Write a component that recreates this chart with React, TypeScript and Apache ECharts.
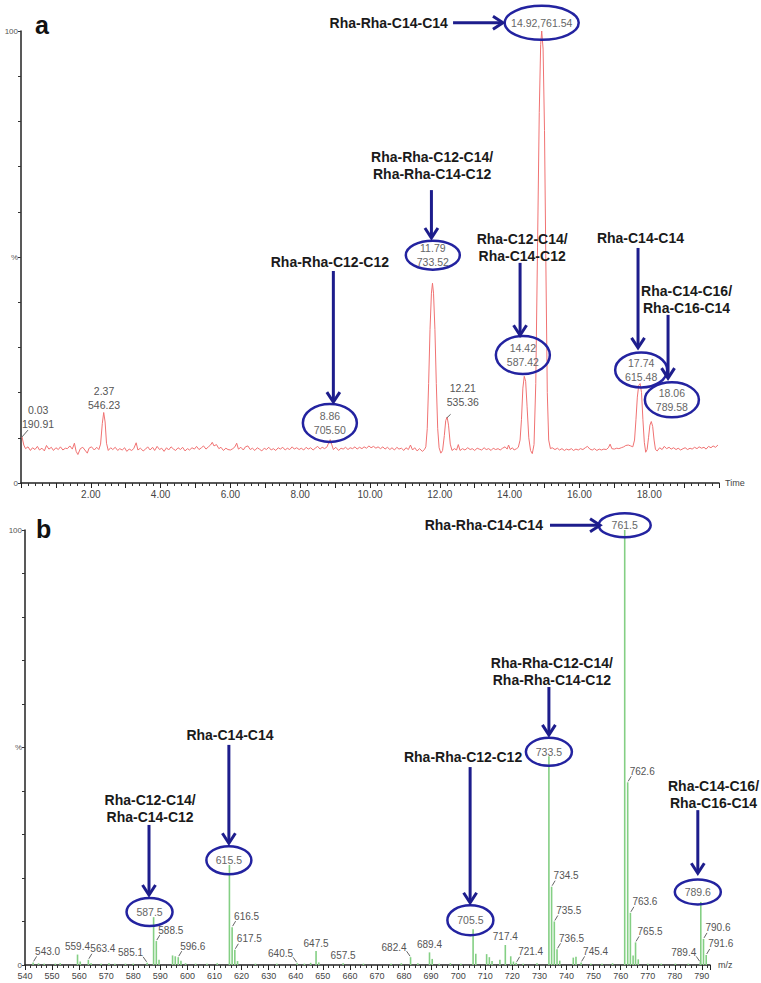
import React, { useEffect, useRef } from "react";
import * as echarts from "echarts";

// ---------- Panel a: total ion chromatogram (time in min, relative intensity %) ----------
const chromTrace: [number, number][] = [
  [0.03, 10.2], [0.08, 8.4], [0.13, 7.6], [0.2, 8.0], [0.27, 7.2], [0.33, 7.8], [0.4, 7.4], [0.47, 8.1],
  [0.53, 7.3], [0.6, 7.7], [0.67, 7.1], [0.73, 8.3], [0.8, 7.5], [0.87, 7.9], [0.93, 7.2], [1.0, 7.8],
  [1.07, 7.4], [1.13, 8.0], [1.2, 7.3], [1.27, 7.7], [1.33, 7.6], [1.4, 8.2], [1.47, 7.5], [1.53, 8.8],
  [1.58, 7.0], [1.63, 6.3], [1.7, 7.6], [1.77, 7.9], [1.83, 7.3], [1.9, 6.6], [1.95, 7.7], [2.02, 8.0],
  [2.1, 7.3], [2.17, 7.9], [2.23, 7.4], [2.28, 8.6], [2.33, 13.2], [2.37, 15.6], [2.41, 13.5], [2.45, 8.8],
  [2.5, 7.2], [2.57, 7.8], [2.63, 7.4], [2.7, 7.9], [2.77, 7.2], [2.83, 7.6], [2.9, 7.3], [2.97, 7.8],
  [3.03, 7.0], [3.1, 7.5], [3.17, 7.2], [3.23, 7.6], [3.3, 8.9], [3.35, 7.3], [3.42, 7.7], [3.5, 7.1],
  [3.57, 7.5], [3.63, 8.0], [3.7, 7.3], [3.77, 7.9], [3.83, 7.2], [3.9, 8.1], [3.97, 7.4], [4.03, 7.7],
  [4.1, 7.0], [4.17, 7.8], [4.23, 7.3], [4.3, 8.0], [4.37, 7.5], [4.43, 7.2], [4.5, 7.8], [4.57, 7.4],
  [4.63, 7.9], [4.7, 7.1], [4.77, 7.6], [4.83, 7.3], [4.9, 7.8], [4.97, 7.5], [5.03, 8.1], [5.1, 7.4],
  [5.17, 7.8], [5.23, 8.2], [5.3, 7.5], [5.37, 8.0], [5.43, 8.4], [5.48, 9.0], [5.53, 8.2], [5.6, 8.5],
  [5.67, 7.6], [5.73, 7.9], [5.8, 7.2], [5.87, 7.7], [5.93, 7.4], [6.0, 7.3], [6.07, 7.6], [6.13, 8.0],
  [6.18, 8.8], [6.23, 7.5], [6.3, 7.9], [6.37, 7.3], [6.43, 8.0], [6.5, 8.2], [6.57, 7.4], [6.63, 7.7],
  [6.7, 7.2], [6.77, 7.8], [6.83, 7.5], [6.9, 7.1], [6.97, 7.7], [7.03, 7.4], [7.1, 7.9], [7.17, 7.3],
  [7.23, 7.6], [7.3, 7.2], [7.37, 7.8], [7.43, 7.5], [7.5, 7.9], [7.57, 7.3], [7.63, 7.7], [7.7, 7.4],
  [7.77, 8.0], [7.83, 7.5], [7.9, 7.8], [7.97, 7.4], [8.03, 7.7], [8.1, 7.3], [8.17, 7.9], [8.23, 7.5],
  [8.3, 7.8], [8.37, 7.3], [8.43, 7.7], [8.5, 8.1], [8.57, 7.5], [8.63, 7.9], [8.7, 7.6], [8.77, 8.0],
  [8.82, 9.0], [8.86, 9.6], [8.9, 8.6], [8.95, 7.4], [9.02, 7.9], [9.1, 7.2], [9.17, 7.7], [9.23, 7.5],
  [9.3, 7.9], [9.37, 7.4], [9.43, 7.8], [9.5, 7.6], [9.57, 8.0], [9.63, 7.5], [9.7, 7.9], [9.77, 7.6],
  [9.83, 8.0], [9.9, 7.7], [9.97, 8.2], [10.03, 7.8], [10.1, 8.1], [10.17, 7.7], [10.23, 8.0], [10.3, 7.6],
  [10.37, 8.0], [10.43, 7.5], [10.5, 7.9], [10.57, 7.4], [10.63, 7.8], [10.7, 7.3], [10.77, 7.9], [10.83, 7.5],
  [10.9, 7.7], [10.97, 7.2], [11.03, 7.8], [11.1, 7.4], [11.16, 8.4], [11.22, 7.3], [11.28, 7.8], [11.35, 7.1],
  [11.42, 7.6], [11.5, 7.0], [11.56, 7.4], [11.6, 8.0], [11.64, 12], [11.68, 22], [11.72, 34], [11.76, 42],
  [11.79, 44.2], [11.82, 42], [11.86, 34], [11.9, 22], [11.94, 12], [11.98, 7.8], [12.03, 6.6], [12.08, 7.2],
  [12.13, 10.5], [12.17, 13.8], [12.21, 14.6], [12.25, 12.8], [12.3, 8.6], [12.35, 7.2], [12.42, 7.6], [12.48, 7.3],
  [12.53, 8.5], [12.58, 7.2], [12.65, 7.6], [12.72, 7.3], [12.8, 7.8], [12.87, 7.4], [12.93, 7.6], [13.0, 7.2],
  [13.07, 7.7], [13.13, 7.5], [13.2, 7.3], [13.27, 7.8], [13.33, 7.4], [13.4, 7.6], [13.47, 7.2], [13.53, 7.7],
  [13.6, 7.4], [13.67, 7.6], [13.73, 7.3], [13.8, 7.7], [13.87, 8.0], [13.93, 7.5], [13.97, 8.4], [14.02, 7.4],
  [14.08, 7.8], [14.13, 7.3], [14.2, 7.6], [14.25, 7.9], [14.3, 9.5], [14.34, 14], [14.38, 21], [14.42, 23.6],
  [14.46, 22.5], [14.5, 17], [14.55, 10], [14.6, 7.2], [14.65, 6.5], [14.7, 8.5], [14.75, 22], [14.8, 52],
  [14.85, 82], [14.89, 97], [14.92, 100], [14.96, 96], [15.0, 78], [15.04, 48], [15.08, 20], [15.12, 9.5],
  [15.17, 7.6], [15.22, 7.8], [15.3, 7.4], [15.37, 7.7], [15.43, 7.3], [15.5, 7.6], [15.57, 7.2], [15.63, 7.5],
  [15.7, 7.3], [15.77, 7.6], [15.83, 7.2], [15.9, 7.5], [15.97, 7.3], [16.03, 7.6], [16.1, 7.4], [16.17, 7.8],
  [16.23, 8.1], [16.3, 7.5], [16.37, 7.3], [16.43, 7.6], [16.5, 7.2], [16.57, 7.5], [16.63, 7.3], [16.7, 7.5],
  [16.77, 7.4], [16.83, 7.8], [16.88, 8.6], [16.93, 7.6], [17.0, 7.5], [17.07, 7.7], [17.13, 7.6], [17.2, 7.8],
  [17.27, 8.0], [17.33, 8.3], [17.4, 8.4], [17.47, 8.2], [17.53, 8.0], [17.58, 9.5], [17.62, 14], [17.66, 19],
  [17.7, 21.6], [17.74, 22], [17.78, 20], [17.82, 14], [17.86, 9], [17.9, 6.8], [17.94, 7.4], [17.98, 10],
  [18.02, 12.8], [18.06, 13.6], [18.1, 12.5], [18.14, 9.5], [18.18, 7.4], [18.23, 7.1], [18.3, 7.8], [18.37, 7.4],
  [18.43, 8.1], [18.5, 7.6], [18.57, 7.9], [18.63, 7.5], [18.7, 7.8], [18.77, 7.4], [18.83, 7.7], [18.9, 7.3],
  [18.97, 7.6], [19.03, 7.8], [19.1, 7.4], [19.17, 7.7], [19.23, 7.5], [19.3, 7.9], [19.37, 7.6], [19.43, 8.0],
  [19.5, 7.7], [19.57, 7.9], [19.63, 7.5], [19.7, 8.1], [19.77, 7.8], [19.83, 8.2], [19.9, 7.9], [19.97, 8.4],
];

// ---------- Panel b: mass spectrum (m/z, relative intensity %) ----------
const spectrumMz = [
  543.0, 545.0, 547.1, 551.2, 553.0, 559.4, 560.4, 563.4, 564.4, 568.1, 571.0, 573.2, 577.1, 580.0, 585.1,
  587.5, 588.5, 589.5, 594.5, 595.5, 596.6, 597.6, 599.3, 603.0, 607.2, 611.0, 615.5, 616.5, 617.5, 618.5,
  625.1, 633.0, 640.5, 643.2, 645.5, 647.5, 648.5, 657.5, 665.0, 675.2, 679.0, 682.4, 685.1, 689.4, 690.4,
  693.0, 697.1, 701.0, 705.5, 706.5, 710.5, 711.5, 712.5, 715.4, 717.4, 719.4, 720.4, 721.4, 724.0, 729.1,
  733.5, 734.5, 735.5, 736.5, 737.5, 742.5, 743.5, 745.4, 749.0, 753.1, 757.0, 761.5, 762.6, 763.6, 764.6,
  765.5, 766.5, 770.1, 775.0, 780.2, 785.0, 789.4, 789.6, 790.6, 791.6,
];
const spectrumPct = [
  0.6, 0.4, 0.3, 0.3, 0.4, 2.4, 0.8, 1.2, 0.4, 0.3, 0.4, 0.3, 0.3, 0.3, 0.5,
  11, 5.5, 1.2, 2.2, 2.0, 1.8, 1.0, 0.4, 0.3, 0.3, 0.4, 23, 8.7, 3.5, 0.9,
  0.3, 0.3, 0.4, 0.3, 0.5, 3.2, 0.6, 0.4, 0.3, 0.3, 0.4, 1.8, 0.4, 2.9, 1.4,
  0.3, 0.4, 0.3, 8.2, 2.6, 2.5, 1.8, 0.9, 1.2, 4.6, 2.0, 0.8, 0.5, 0.3, 0.4,
  48, 18, 10, 3.6, 1.0, 1.7, 1.9, 0.6, 0.3, 0.3, 0.4, 100, 42, 12, 2.2,
  5.2, 1.3, 0.3, 0.3, 0.3, 0.3, 0.6, 14.5, 6, 2.3,
];

// peak labels of the spectrum: [text, m/z, intensity, leader side]
const spectrumPeakLabels: [string, number, number, string][] = [
  ["543.0", 543.0, 0.6, "r"], ["559.4", 559.4, 2.4, "c"], ["563.4", 563.4, 1.2, "r"], ["585.1", 585.1, 0.5, "l"],
  ["588.5", 588.5, 5.5, "r"], ["596.6", 596.6, 1.8, "r"], ["616.5", 616.5, 8.7, "r"], ["617.5", 617.5, 3.5, "r"],
  ["640.5", 640.5, 0.4, "l"], ["647.5", 647.5, 3.2, "c"], ["657.5", 657.5, 0.4, "c"], ["682.4", 682.4, 1.8, "l"],
  ["689.4", 689.4, 2.9, "c"], ["717.4", 717.4, 4.6, "c"], ["721.4", 721.4, 0.5, "r"], ["734.5", 734.5, 18, "r"],
  ["735.5", 735.5, 10, "r"], ["736.5", 736.5, 3.6, "r"], ["745.4", 745.4, 0.6, "r"], ["762.6", 762.6, 42, "r"],
  ["763.6", 763.6, 12, "r"], ["765.5", 765.5, 5.2, "r"], ["789.4", 789.4, 0.6, "l"], ["790.6", 790.6, 6, "r"],
  ["791.6", 791.6, 2.3, "r"],
];

// chromatogram peak labels (time / base peak m/z)
const chromPeakLabels: { text: string; at: [number, number]; leader?: [number, number, number, number] }[] = [
  { text: "0.03\n190.91", at: [0.49, 14.7], leader: [0.03, 10.2, 0.2, 11.7] },
  { text: "2.37\n546.23", at: [2.38, 18.9] },
  { text: "12.21\n535.36", at: [12.66, 19.5], leader: [12.2, 14.4, 12.31, 15.2] },
];

type Callout = {
  name: string; at: [number, number]; align: string;
  arrow: [number, number, number, number];
  ellipse: [number, number]; rx: number; ry: number; value: string;
};

const calloutsA: Callout[] = [
  { name: "Rha-Rha-C14-C14", at: [12.23, 101.8], align: "right", arrow: [12.38, 101.8, 13.81, 101.8], ellipse: [14.92, 101.8], rx: 37, ry: 17, value: "14.92,761.54" },
  { name: "Rha-Rha-C12-C14/\nRha-Rha-C14-C12", at: [11.78, 70.2], align: "center", arrow: [11.76, 64.8, 11.76, 54.2], ellipse: [11.8, 50.4], rx: 27, ry: 14.5, value: "11.79\n733.52" },
  { name: "Rha-Rha-C12-C12", at: [8.85, 48.9], align: "center", arrow: [8.95, 46.9, 8.95, 17.9], ellipse: [8.85, 13.3], rx: 27, ry: 19, value: "8.86\n705.50" },
  { name: "Rha-C12-C14/\nRha-C14-C12", at: [14.36, 52.2], align: "center", arrow: [14.3, 48.7, 14.3, 32.7], ellipse: [14.38, 28.3], rx: 27, ry: 19, value: "14.42\n587.42" },
  { name: "Rha-C14-C14", at: [17.75, 54.2], align: "center", arrow: [17.68, 52, 17.68, 29.9], ellipse: [17.77, 25], rx: 26, ry: 17.5, value: "17.74\n615.48" },
  { name: "Rha-C14-C16/\nRha-C16-C14", at: [19.07, 40.7], align: "center", arrow: [18.54, 37.2, 18.54, 23.2], ellipse: [18.65, 18.4], rx: 27, ry: 17.5, value: "18.06\n789.58" },
];

const calloutsB: Callout[] = [
  { name: "Rha-Rha-C14-C14", at: [731.3, 101.1], align: "right", arrow: [733.9, 101.1, 752.4, 101.1], ellipse: [761.5, 101.1], rx: 26, ry: 12, value: "761.5" },
  { name: "Rha-Rha-C12-C14/\nRha-Rha-C14-C12", at: [734.6, 67.5], align: "center", arrow: [733.5, 63.9, 733.5, 52.9], ellipse: [733.5, 49], rx: 23, ry: 14, value: "733.5" },
  { name: "Rha-Rha-C12-C12", at: [701.8, 47.8], align: "center", arrow: [704.4, 45.5, 704.4, 14.3], ellipse: [704.5, 10.3], rx: 23, ry: 15, value: "705.5" },
  { name: "Rha-C14-C16/\nRha-C16-C14", at: [794.3, 39.1], align: "center", arrow: [788.5, 35.6, 788.5, 21.1], ellipse: [788.5, 16.8], rx: 23, ry: 12.5, value: "789.6" },
  { name: "Rha-C14-C14", at: [615.7, 52.9], align: "center", arrow: [615.3, 50.6, 615.3, 28], ellipse: [615.3, 24.1], rx: 22.5, ry: 14, value: "615.5" },
  { name: "Rha-C12-C14/\nRha-C14-C12", at: [586.2, 36], align: "center", arrow: [585.8, 32.2, 585.8, 16.1], ellipse: [586, 12.2], rx: 23, ry: 14, value: "587.5" },
];

const FONT = '"Liberation Sans", Arial, sans-serif';
const NAVY = "#1d1d8c";
const ELLIPSE = "#2323a0";
const GRAY = "#555";

function arrowEls(p1: number[], p2: number[]) {
  const dx = p2[0] - p1[0], dy = p2[1] - p1[1];
  const len = Math.hypot(dx, dy) || 1;
  const ux = dx / len, uy = dy / len;
  const hl = 10, hw = 6.5;
  const bx = p2[0] - ux * hl, by = p2[1] - uy * hl;
  return [
    { type: "line", z: 100, shape: { x1: p1[0], y1: p1[1], x2: p2[0] - ux * 1.5, y2: p2[1] - uy * 1.5 }, style: { stroke: NAVY, lineWidth: 3 } },
    {
      type: "polyline", z: 100,
      shape: { points: [[bx - uy * hw, by + ux * hw], [p2[0], p2[1]], [bx + uy * hw, by - ux * hw]] },
      style: { stroke: NAVY, lineWidth: 3, fill: "none", lineJoin: "miter" },
    },
  ];
}

function textEl(text: string, x: number, y: number, font: string, fill: string, align = "center", lineHeight = 14) {
  return {
    type: "text", z: 101,
    style: { text, x, y, font, fill, align, verticalAlign: "middle", textAlign: align, textVerticalAlign: "middle", lineHeight },
  };
}

function axisCommon() {
  return {
    axisLine: { show: true, lineStyle: { color: "#222", width: 1.5 } },
    splitLine: { show: false },
  };
}

export default function App() {
  const ref = useRef<HTMLDivElement>(null);

  useEffect(() => {
    if (!ref.current) return;
    const chart = echarts.init(ref.current, null, { renderer: "svg" });
    const yLabel = (v: number) => (v === 100 ? "100" : v === 0 ? "0" : v === 50 ? "%" : "");

    chart.setOption({
      animation: false,
      backgroundColor: "#ffffff",
      textStyle: { fontFamily: FONT },
      grid: [
        { left: 21, right: 42, top: 31, height: 452 },
        { left: 25, right: 51, top: 530, height: 435 },
      ],
      xAxis: [
        {
          type: "value", gridIndex: 0, min: 0, max: 20, interval: 1,
          ...axisCommon(),
          axisTick: { show: true, length: 5, lineStyle: { color: "#222" } },
          minorTick: { show: true, splitNumber: 5, length: 3, lineStyle: { color: "#333" } },
          axisLabel: {
            fontSize: 10, color: "#444", margin: 6, fontFamily: FONT,
            formatter: (v: number) => (v > 0 && v < 20 && Math.abs(v % 2) < 1e-6 ? v.toFixed(2) : ""),
          },
          name: "Time", nameLocation: "end", nameGap: 6,
          nameTextStyle: { fontSize: 9, color: "#444", fontFamily: FONT },
        },
        {
          type: "value", gridIndex: 1, min: 540, max: 793, interval: 10,
          ...axisCommon(),
          axisTick: { show: true, length: 5, lineStyle: { color: "#222" } },
          minorTick: { show: true, splitNumber: 5, length: 3, lineStyle: { color: "#333" } },
          axisLabel: {
            fontSize: 9, color: "#444", margin: 6, fontFamily: FONT,
            formatter: (v: number) => (Math.abs(v % 10) < 1e-6 ? String(v) : ""),
          },
          name: "m/z", nameLocation: "end", nameGap: 8,
          nameTextStyle: { fontSize: 9, color: "#444", fontFamily: FONT },
        },
      ],
      yAxis: [0, 1].map((g) => ({
        type: "value", gridIndex: g, min: 0, max: 100, interval: 10,
        ...axisCommon(),
        axisTick: { show: true, length: 3, lineStyle: { color: "#333" } },
        axisLabel: { fontSize: 8, color: "#555", margin: 3, formatter: yLabel, fontFamily: FONT },
      })),
      series: [
        {
          type: "line", xAxisIndex: 0, yAxisIndex: 0, data: chromTrace,
          showSymbol: false, symbol: "none", silent: true,
          lineStyle: { color: "#f07272", width: 1 },
        },
        {
          type: "bar", xAxisIndex: 1, yAxisIndex: 1, silent: true,
          data: spectrumMz.map((m, i) => [m, spectrumPct[i]]),
          barWidth: 1.6, itemStyle: { color: "#84cf84" },
        },
      ],
    });

    const toA = (x: number, y: number) => chart.convertToPixel({ gridIndex: 0 }, [x, y]) as number[];
    const toB = (x: number, y: number) => chart.convertToPixel({ gridIndex: 1 }, [x, y]) as number[];

    const els: any[] = [];
    const boldFont = `bold 14px ${FONT}`;
    const valFont = `10.5px ${FONT}`;
    const smallFont = `10px ${FONT}`;

    const addCallouts = (list: Callout[], to: (x: number, y: number) => number[]) => {
      list.forEach((c) => {
        const p = to(c.at[0], c.at[1]);
        els.push(textEl(c.name, p[0], p[1], boldFont, "#1a1a1a", c.align, 17));
        const a1 = to(c.arrow[0], c.arrow[1]);
        const a2 = to(c.arrow[2], c.arrow[3]);
        els.push(...arrowEls(a1, a2));
        const e = to(c.ellipse[0], c.ellipse[1]);
        els.push({
          type: "ellipse", z: 99,
          shape: { cx: e[0], cy: e[1], rx: c.rx, ry: c.ry },
          style: { fill: "none", stroke: ELLIPSE, lineWidth: 2.5 },
        });
        els.push(textEl(c.value, e[0], e[1], valFont, "#666", "center", 14));
      });
    };
    addCallouts(calloutsA, toA);
    addCallouts(calloutsB, toB);

    chromPeakLabels.forEach((l) => {
      const p = toA(l.at[0], l.at[1]);
      els.push(textEl(l.text, p[0], p[1], valFont, GRAY, "center", 14));
      if (l.leader) {
        const s = toA(l.leader[0], l.leader[1]);
        const t = toA(l.leader[2], l.leader[3]);
        els.push({ type: "line", z: 100, shape: { x1: s[0], y1: s[1], x2: t[0], y2: t[1] }, style: { stroke: "#666", lineWidth: 1 } });
      }
    });

    spectrumPeakLabels.forEach(([txt, mz, pct, side]) => {
      const p = toB(mz, pct);
      if (side === "c") {
        els.push(textEl(txt, p[0], p[1] - 8, smallFont, GRAY, "center"));
      } else if (side === "r") {
        els.push({ type: "line", z: 100, shape: { x1: p[0] + 0.5, y1: p[1] - 1, x2: p[0] + 3.5, y2: p[1] - 6 }, style: { stroke: "#666", lineWidth: 1 } });
        els.push(textEl(txt, p[0] + 2, p[1] - 11, smallFont, GRAY, "left"));
      } else {
        els.push({ type: "line", z: 100, shape: { x1: p[0] - 0.5, y1: p[1] - 1, x2: p[0] - 4, y2: p[1] - 6 }, style: { stroke: "#666", lineWidth: 1 } });
        els.push(textEl(txt, p[0] - 4, p[1] - 10, smallFont, GRAY, "right"));
      }
    });

    els.push(textEl("a", 35, 25, `bold 25px ${FONT}`, "#111", "left"));
    els.push(textEl("b", 36, 529, `bold 25px ${FONT}`, "#111", "left"));

    chart.setOption({ graphic: { elements: els } });

    return () => chart.dispose();
  }, []);

  return (
    <div
      ref={ref}
      style={{ position: "absolute", left: 0, top: 0, width: 761, height: 983, background: "#fff" }}
    />
  );
}
